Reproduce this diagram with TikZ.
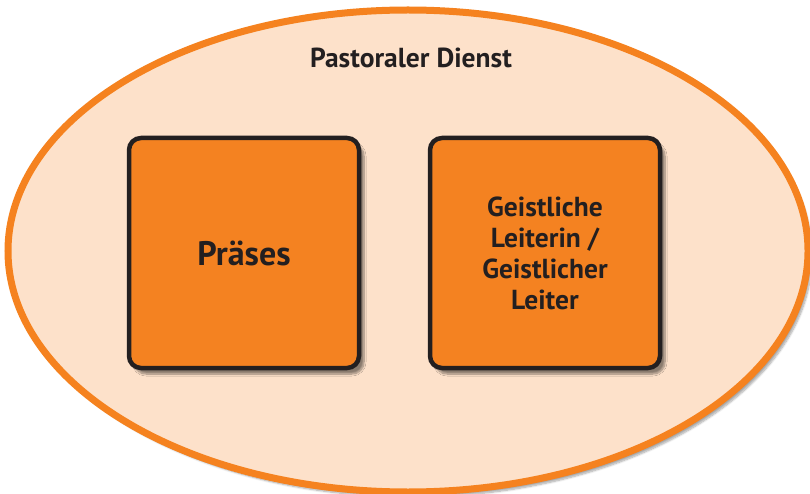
\documentclass[tikz,border=0pt]{standalone}
\usepackage{fontspec}
\setmainfont{PT Sans}
\usepackage{tikz}
\usetikzlibrary{shapes.geometric, shadows.blur}
\definecolor{kreisfill}{HTML}{FDE1CA}
\definecolor{kreisrand}{HTML}{F5821F}
\definecolor{boxfill}{HTML}{F48221}
\definecolor{boxrand}{HTML}{231F20}

\begin{document}
\begin{tikzpicture}[x=1pt, y=-1pt,
  kreis/.style={ellipse, draw=kreisrand, line width=7pt, fill=kreisfill,
    minimum width=800pt, minimum height=482pt, inner sep=0pt,
    blur shadow={shadow xshift=4pt, shadow yshift=-5pt, shadow blur steps=8, shadow opacity=35}},
  amt/.style={rectangle, rounded corners=12pt, draw=boxrand, line width=4.5pt, fill=boxfill,
    minimum width=230pt, minimum height=230pt, inner sep=0pt,
    text=boxrand, font=\bfseries, align=center,
    blur shadow={shadow xshift=5pt, shadow yshift=-6pt, shadow blur steps=8, shadow opacity=45}},
  ]
  \useasboundingbox (0,0) rectangle (810,494);
  \clip (0,0) rectangle (810,494);

  \node[kreis] (dienst) at (408,251) {};
  \node[text=boxrand, font=\bfseries\fontsize{27.5}{30}\selectfont] (titel) at (411,58) {Pastoraler Dienst};

  \node[amt, font=\bfseries\fontsize{34}{38}\selectfont] (praeses) at (244,253) {Präses};
  \node[amt, font=\bfseries\fontsize{27.5}{31}\selectfont] (leitung) at (545,253)
    {Geistliche\\Leiterin /\\Geistlicher\\Leiter};
\end{tikzpicture}
\end{document}
